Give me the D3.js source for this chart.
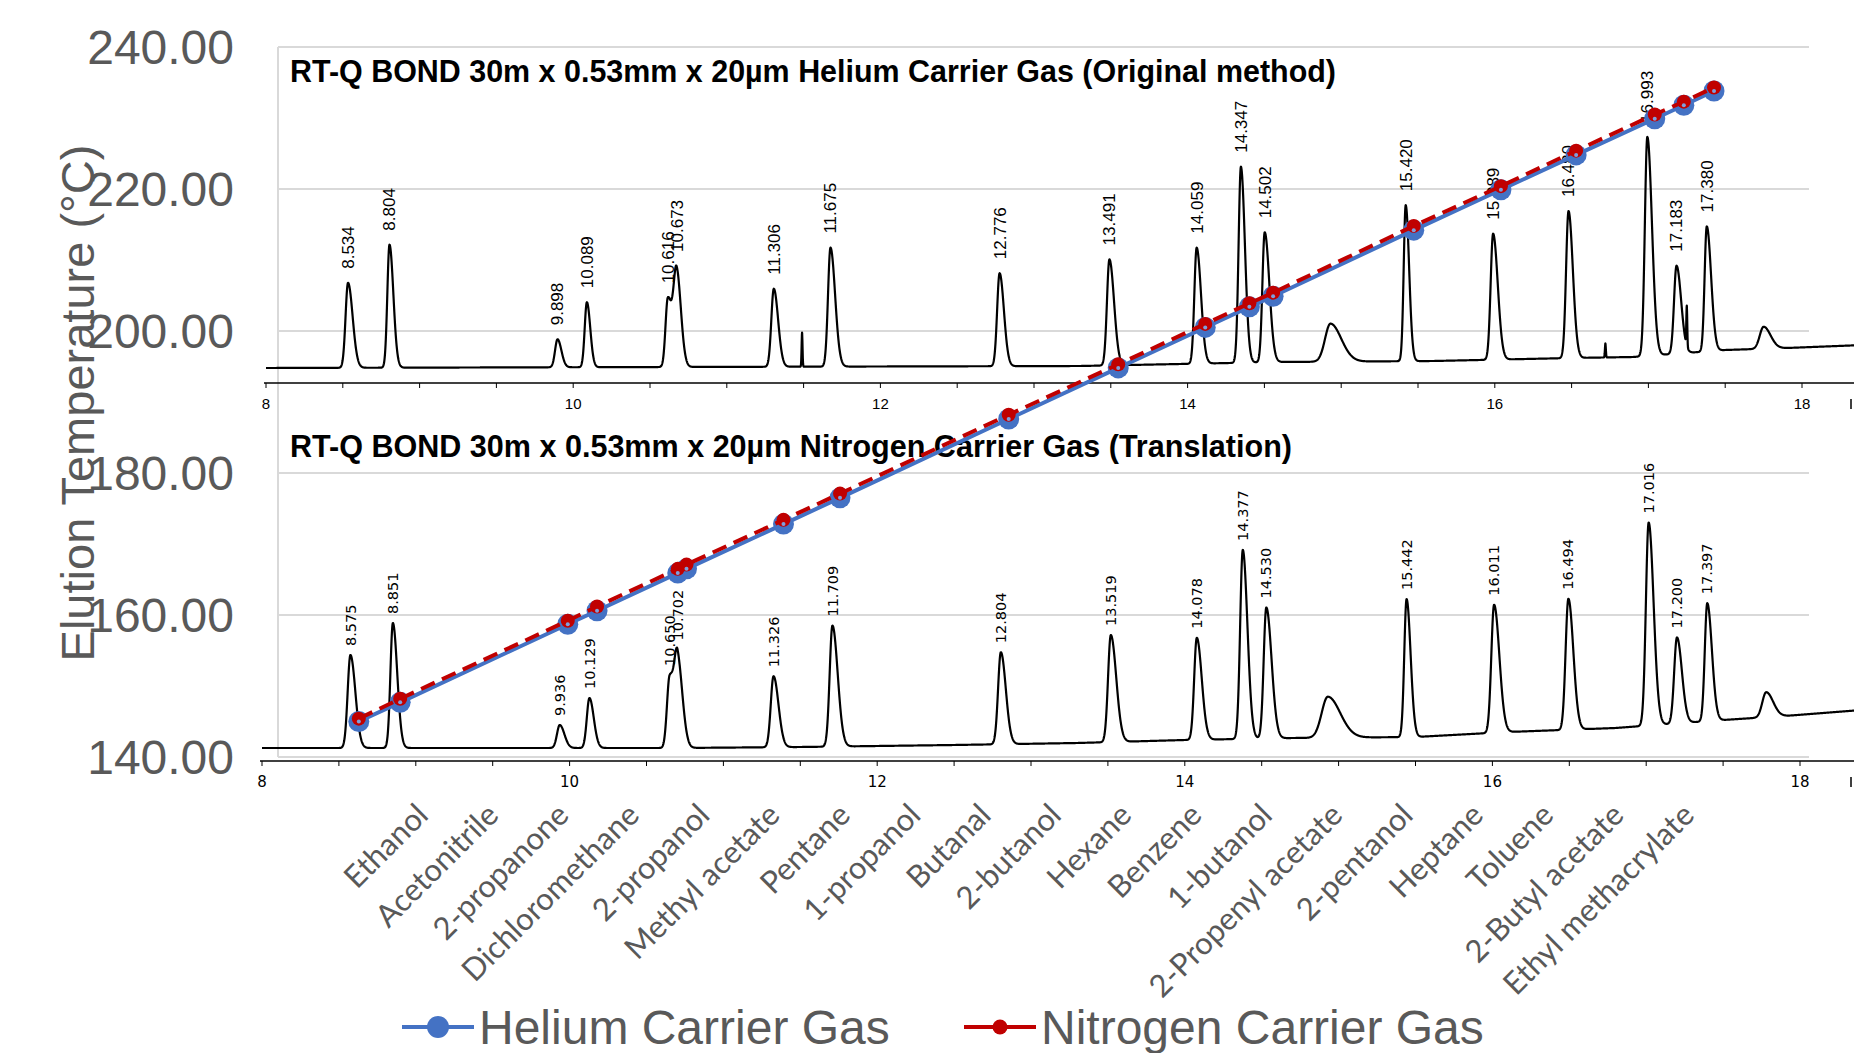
<!DOCTYPE html>
<html>
<head>
<meta charset="utf-8">
<script src="https://cdnjs.cloudflare.com/ajax/libs/d3/7.8.5/d3.min.js"></script>
<style>
    body { margin: 0; background: #fff; overflow: hidden; }
</style>
</head>
<body>
<div id="chart"></div>
<script>
// compounds, in elution order
const compounds = ["Ethanol", "Acetonitrile", "2-propanone", "Dichloromethane", "2-propanol",
    "Methyl acetate", "Pentane", "1-propanol", "Butanal", "2-butanol", "Hexane", "Benzene",
    "1-butanol", "2-Propenyl acetate", "2-pentanol", "Heptane", "Toluene", "2-Butyl acetate",
    "Ethyl methacrylate"];

// retention times (min)
const heliumRT = [8.534, 8.804, 9.898, 10.089, 10.616, 10.673, 11.306, 11.675, 12.776, 13.491,
    14.059, 14.347, 14.502, 15.420, 15.989, 16.480, 16.993, 17.183, 17.380];
const nitrogenRT = [8.575, 8.851, 9.936, 10.129, 10.650, 10.702, 11.326, 11.709, 12.804, 13.519,
    14.078, 14.377, 14.530, 15.442, 16.011, 16.494, 17.016, 17.200, 17.397];

// elution temperatures (°C)
const heliumTemp = [145.0, 147.7, 158.7, 160.6, 165.9, 166.5, 172.8, 176.5, 187.6, 194.8,
    200.5, 203.4, 204.9, 214.2, 219.9, 224.8, 229.9, 231.8, 233.8];
const nitrogenTemp = [145.4, 148.2, 159.2, 161.2, 166.5, 167.1, 173.4, 177.1, 188.2, 195.3,
    201.0, 203.9, 205.4, 214.8, 220.4, 225.4, 230.5, 232.3, 234.3];

const tempTicks = [140, 160, 180, 200, 220, 240];
const timeTicks = [8, 10, 12, 14, 16, 18];

// helium chromatogram: peaks (time, height, left/right width) and baseline drift
const hePeakTime   = [8.534, 8.804, 9.898, 10.089, 10.616, 10.673, 11.306, 11.49, 11.675, 12.776, 13.491,
    14.059, 14.347, 14.502, 14.93, 15.420, 15.989, 16.480, 16.72, 16.993, 17.183, 17.25, 17.380, 17.75];
const hePeakHeight = [85, 123, 28, 65, 68, 96, 78, 34, 119, 93, 106,
    116, 196, 130, 38, 156, 126, 147, 14, 219, 88, 40, 125, 22];
const hePeakSigmaL = [.016, .014, .016, .014, .015, .02, .016, .003, .016, .016, .016,
    .015, .015, .015, .035, .013, .016, .016, .003, .016, .016, .003, .014, .025];
const hePeakSigmaR = [.03, .025, .025, .022, .025, .028, .028, .003, .03, .028, .03,
    .028, .026, .03, .07, .022, .03, .028, .003, .03, .03, .003, .028, .045];
const heBaseTime   = [8, 13.3, 14.6, 15.6, 16.5, 16.9, 17.5, 17.9, 18.4];
const heBaseSignal = [4, 6, 10, 11, 14, 15, 22, 24, 27];

// nitrogen chromatogram
const n2PeakTime   = [8.575, 8.851, 9.936, 10.129, 10.650, 10.702, 11.326, 11.709, 12.804, 13.519,
    14.078, 14.377, 14.530, 14.93, 15.442, 16.011, 16.494, 17.016, 17.200, 17.397, 17.78];
const n2PeakHeight = [93, 125, 23, 50, 70, 86, 71, 121, 92, 107,
    102, 189, 131, 41, 138, 128, 131, 203, 86, 118, 25];
const n2PeakSigmaL = [.018, .016, .018, .017, .017, .02, .018, .018, .018, .018,
    .017, .017, .017, .04, .015, .018, .018, .018, .018, .016, .025];
const n2PeakSigmaR = [.032, .028, .03, .028, .028, .032, .032, .034, .032, .035,
    .032, .03, .034, .08, .026, .034, .032, .032, .032, .03, .045];
const n2BaseTime   = [8, 10.7, 11.5, 12.5, 13.3, 14, 14.7, 15.5, 16.1, 16.8, 17.5, 17.9, 18.4];
const n2BaseSignal = [4, 4, 5, 7, 9, 12, 14, 15, 20, 24, 32, 36, 42];

const heTitle = "RT-Q BOND 30m x 0.53mm x 20µm Helium Carrier Gas (Original method)";
const n2Title = "RT-Q BOND 30m x 0.53mm x 20µm Nitrogen Carrier Gas (Translation)";
const yTitle = "Elution Temperature (°C)";
const seriesNames = ["Helium Carrier Gas", "Nitrogen Carrier Gas"];

const width = 1854, height = 1053;
const grey = "#595959", blue = "#4472C4", red = "#C00000";

const svg = d3.select("#chart").append("svg")
    .attr("width", width)
    .attr("height", height)
    .style("font-family", "'Liberation Sans', Arial, sans-serif");

svg.append("rect").attr("width", width).attr("height", height).attr("fill", "#fff");

const plot = { left: 278, right: 1809, top: 47, bottom: 757 };

const x = d3.scaleLinear().domain([8, 18]).range([277, 1809]);
const y = d3.scaleLinear().domain([140, 240]).range([plot.bottom, plot.top]);

// gridlines + left border
svg.append("g").selectAll("line")
    .data(tempTicks)
    .join("line")
    .attr("x1", plot.left).attr("x2", plot.right)
    .attr("y1", d => y(d)).attr("y2", d => y(d))
    .attr("stroke", "#d9d9d9").attr("stroke-width", 2);

svg.append("line")
    .attr("x1", plot.left).attr("x2", plot.left)
    .attr("y1", plot.top).attr("y2", plot.bottom)
    .attr("stroke", "#d9d9d9").attr("stroke-width", 2);

function drawChromatogram(cfg) {
    const g = svg.append("g");
    const cx = d3.scaleLinear().domain([8, 18]).range(cfg.xRange);
    const cy = d3.scaleLinear().domain([0, 250]).range(cfg.yRange);
    const base = d3.scaleLinear().domain(cfg.baseTime).range(cfg.baseSignal).clamp(true);

    const peaks = cfg.peakTime.map((t, i) => ({
        t: t, h: cfg.peakHeight[i], sl: cfg.sigmaL[i], sr: cfg.sigmaR[i]
    }));
    const signal = t => base(t) + d3.sum(peaks, p => {
        const s = t < p.t ? p.sl : p.sr;
        return p.h * Math.exp(-((t - p.t) * (t - p.t)) / (2 * s * s));
    });

    const tEnd = cx.invert(width + 2);
    const times = d3.range(cx.invert(cfg.xRange[0]), tEnd, 0.0015)
        .concat(cfg.peakTime)
        .sort(d3.ascending);

    // time axis
    const axisY = cfg.axisY;
    g.append("line")
        .attr("x1", cfg.xRange[0] - 2).attr("x2", width)
        .attr("y1", axisY).attr("y2", axisY)
        .attr("stroke", "#000").attr("stroke-width", 1.5);

    g.append("g").selectAll("line")
        .data(cx.ticks(20).concat([18.5]))
        .join("line")
        .attr("x1", d => cx(d)).attr("x2", d => cx(d))
        .attr("y1", axisY).attr("y2", axisY + 5)
        .attr("stroke", "#000").attr("stroke-width", 1);

    g.append("g").selectAll("text")
        .data(timeTicks)
        .join("text")
        .attr("x", d => cx(d))
        .attr("y", axisY + 26)
        .attr("text-anchor", "middle")
        .style("font-size", "15px")
        .style("font-family", cfg.tickFont)
        .text(d => d);

    // clipped unit mark at the right edge
    g.append("line")
        .attr("x1", width - 3).attr("x2", width - 3)
        .attr("y1", axisY + 16).attr("y2", axisY + 26)
        .attr("stroke", "#000").attr("stroke-width", 1.5);

    // trace
    g.append("path")
        .datum(times)
        .attr("d", d3.line().x(t => cx(t)).y(t => cy(signal(t))))
        .attr("fill", "none")
        .attr("stroke", "#000")
        .attr("stroke-width", 2.2)
        .attr("stroke-linejoin", "round");

    // retention time labels
    g.append("g").selectAll("text")
        .data(cfg.labels)
        .join("text")
        .attr("transform", d => `translate(${cx(d)},${cy(signal(d)) - cfg.labelGap}) rotate(-90)`)
        .attr("dy", "0.35em")
        .style("font-size", cfg.labelSize)
        .style("font-family", cfg.labelFont)
        .text(d => d3.format(".3f")(d));

    // panel title
    g.append("text")
        .attr("x", 290)
        .attr("y", cfg.titleY)
        .attr("textLength", cfg.titleWidth)
        .attr("lengthAdjust", "spacingAndGlyphs")
        .style("font-size", "31px")
        .style("font-weight", "bold")
        .text(cfg.title);
}

drawChromatogram({
    xRange: [266, 1802], yRange: [372, 122], axisY: 383,
    peakTime: hePeakTime, peakHeight: hePeakHeight, sigmaL: hePeakSigmaL, sigmaR: hePeakSigmaR,
    baseTime: heBaseTime, baseSignal: heBaseSignal,
    labels: heliumRT, labelGap: 14, labelSize: "17px", labelFont: "'Liberation Sans', Arial, sans-serif",
    tickFont: "'Liberation Sans', Arial, sans-serif",
    title: heTitle, titleY: 82, titleWidth: 1046
});

drawChromatogram({
    xRange: [262, 1800], yRange: [752, 502], axisY: 761,
    peakTime: n2PeakTime, peakHeight: n2PeakHeight, sigmaL: n2PeakSigmaL, sigmaR: n2PeakSigmaR,
    baseTime: n2BaseTime, baseSignal: n2BaseSignal,
    labels: nitrogenRT, labelGap: 9, labelSize: "14.5px", labelFont: "'DejaVu Sans', sans-serif",
    tickFont: "'DejaVu Sans', sans-serif",
    title: n2Title, titleY: 457, titleWidth: 1002
});

// y axis title and tick labels
svg.append("text")
    .attr("transform", "translate(94,403) rotate(-90)")
    .attr("text-anchor", "middle")
    .style("font-size", "47px")
    .attr("fill", grey)
    .text(yTitle);

svg.append("g").selectAll("text")
    .data(tempTicks)
    .join("text")
    .attr("x", 234)
    .attr("y", d => y(d) + 17)
    .attr("text-anchor", "end")
    .style("font-size", "48px")
    .attr("fill", grey)
    .text(d => d3.format(".2f")(d));

// series
const heData = heliumRT.map((t, i) => [t, heliumTemp[i]]);
const n2Data = heliumRT.map((t, i) => [t, nitrogenTemp[i]]);
const line = d3.line().x(d => x(d[0])).y(d => y(d[1]));

svg.append("path")
    .datum(heData)
    .attr("d", line)
    .attr("fill", "none")
    .attr("stroke", blue)
    .attr("stroke-width", 4);

svg.append("g").selectAll("circle")
    .data(heData)
    .join("circle")
    .attr("cx", d => x(d[0])).attr("cy", d => y(d[1]))
    .attr("r", 10.5)
    .attr("fill", blue);

svg.append("path")
    .datum(n2Data)
    .attr("d", line)
    .attr("fill", "none")
    .attr("stroke", red)
    .attr("stroke-width", 4)
    .attr("stroke-dasharray", "15,8");

svg.append("g").selectAll("circle")
    .data(n2Data)
    .join("circle")
    .attr("cx", d => x(d[0])).attr("cy", d => y(d[1]))
    .attr("r", 7)
    .attr("fill", red);

svg.append("g").selectAll("circle")
    .data(heData)
    .join("circle")
    .attr("cx", d => x(d[0])).attr("cy", d => y(d[1]))
    .attr("r", 2)
    .attr("fill", "#7f9fdc");

// compound labels
const xc = d3.scalePoint().domain(compounds).range([430, 1696]);

svg.append("g").selectAll("text")
    .data(compounds)
    .join("text")
    .attr("transform", d => `translate(${xc(d)},817) rotate(-45)`)
    .attr("text-anchor", "end")
    .style("font-family", "Lato, 'Open Sans', sans-serif")
    .style("font-size", "31px")
    .attr("fill", grey)
    .text(d => d);

// legend
const legend = svg.append("g");
const legendItems = [
    { name: seriesNames[0], color: blue, x0: 402, r: 11 },
    { name: seriesNames[1], color: red, x0: 964, r: 7.5 }
];
legendItems.forEach(item => {
    legend.append("line")
        .attr("x1", item.x0).attr("x2", item.x0 + 72)
        .attr("y1", 1027).attr("y2", 1027)
        .attr("stroke", item.color).attr("stroke-width", 4);
    legend.append("circle")
        .attr("cx", item.x0 + 36).attr("cy", 1027)
        .attr("r", item.r)
        .attr("fill", item.color);
    legend.append("text")
        .attr("x", item.x0 + 77)
        .attr("y", 1044)
        .style("font-size", "48px")
        .attr("fill", grey)
        .text(item.name);
});
</script>
</body>
</html>
